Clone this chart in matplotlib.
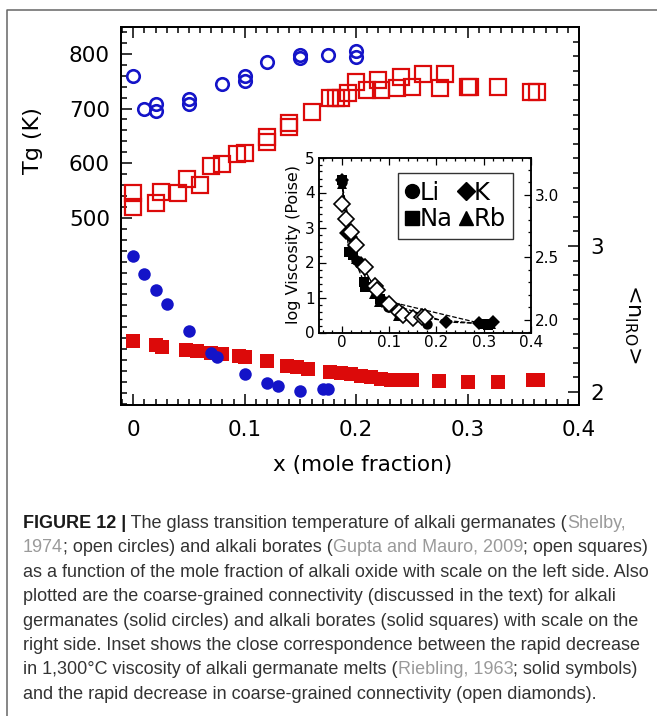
import matplotlib
matplotlib.use("Agg")
import matplotlib.pyplot as plt
from matplotlib.lines import Line2D
from matplotlib.ticker import FixedLocator, FixedFormatter, MultipleLocator

# --- data ---
# Tg of alkali germanates (open circles, left axis)
ge_tg_x = [0.0, 0.01, 0.02, 0.02, 0.05, 0.05, 0.08, 0.10, 0.10, 0.12, 0.15, 0.15, 0.175, 0.20, 0.20]
ge_tg = [760, 700, 708, 696, 718, 708, 744, 760, 750, 785, 797, 793, 798, 805, 795]

# Tg of alkali borates (open squares, left axis)
bo_tg_x = [0.0, 0.0, 0.02, 0.025, 0.04, 0.048, 0.06, 0.07, 0.08, 0.093, 0.10, 0.12, 0.12,
           0.14, 0.14, 0.16, 0.177, 0.182, 0.186, 0.193, 0.20, 0.21, 0.22, 0.222, 0.237,
           0.24, 0.25, 0.26, 0.275, 0.28, 0.30, 0.302, 0.327, 0.357, 0.362]
bo_tg = [545, 520, 528, 547, 545, 572, 560, 595, 598, 617, 619, 639, 648,
         666, 673, 694, 719, 720, 719, 728, 749, 734, 752, 734, 737,
         758, 739, 763, 737, 763, 740, 740, 739, 730, 730]

# coarse-grained connectivity <n_IRO>, germanates (solid circles, right axis)
ge_n_x = [0.0, 0.01, 0.02, 0.03, 0.05, 0.07, 0.075, 0.10, 0.12, 0.13, 0.15, 0.17, 0.175]
ge_n = [2.93, 2.81, 2.70, 2.60, 2.42, 2.27, 2.24, 2.125, 2.06, 2.04, 2.01, 2.02, 2.02]

# coarse-grained connectivity, borates (solid squares, right axis)
bo_n_x = [0.0, 0.02, 0.026, 0.047, 0.057, 0.07, 0.08, 0.095, 0.10, 0.12, 0.138, 0.147,
          0.157, 0.177, 0.186, 0.195, 0.204, 0.213, 0.222, 0.231, 0.238, 0.25, 0.274,
          0.30, 0.327, 0.359, 0.363]
bo_n = [2.35, 2.32, 2.31, 2.29, 2.28, 2.27, 2.26, 2.245, 2.24, 2.21, 2.18, 2.17,
        2.16, 2.14, 2.13, 2.12, 2.11, 2.10, 2.09, 2.085, 2.08, 2.08, 2.075,
        2.07, 2.07, 2.08, 2.08]

# inset: log viscosity at 1300 C (Riebling 1963)
li_x = [0.0, 0.03, 0.037, 0.09, 0.097, 0.18]
li_v = [4.30, 2.07, 1.98, 0.90, 0.72, 0.24]
na_x = [0.0, 0.015, 0.023, 0.047, 0.05, 0.08, 0.30, 0.31]
na_v = [4.37, 2.31, 2.21, 1.44, 1.30, 0.95, 0.24, 0.22]
k_x = [0.0, 0.01, 0.02, 0.04, 0.085, 0.22, 0.29, 0.32]
k_v = [4.35, 2.84, 2.74, 2.00, 0.90, 0.30, 0.26, 0.30]
rb_x = [0.0, 0.01, 0.03, 0.068, 0.079, 0.119, 0.30, 0.315]
rb_v = [4.25, 3.35, 2.10, 1.11, 0.86, 0.48, 0.24, 0.24]

x_ticks = [0.0, 0.1, 0.2, 0.3, 0.4]
x_tick_labels = ["0", "0.1", "0.2", "0.3", "0.4"]
tg_ticks = [500, 600, 700, 800]
n_ticks = [2, 3]
visc_ticks = [0, 1, 2, 3, 4, 5]
inset_n_ticks = [2.0, 2.5, 3.0]
inset_n_labels = ["2.0", "2.5", "3.0"]

caption = [
    [("FIGURE 12 |", "bold"), (" The glass transition temperature of alkali germanates (", "txt"), ("Shelby,", "ref")],
    [("1974", "ref"), ("; open circles) and alkali borates (", "txt"), ("Gupta and Mauro, 2009", "ref"),
     ("; open squares)", "txt")],
    [("as a function of the mole fraction of alkali oxide with scale on the left side. Also", "txt")],
    [("plotted are the coarse-grained connectivity (discussed in the text) for alkali", "txt")],
    [("germanates (solid circles) and alkali borates (solid squares) with scale on the", "txt")],
    [("right side. Inset shows the close correspondence between the rapid decrease", "txt")],
    [("in 1,300°C viscosity of alkali germanate melts (", "txt"), ("Riebling, 1963", "ref"),
     ("; solid symbols)", "txt")],
    [("and the rapid decrease in coarse-grained connectivity (open diamonds).", "txt")],
]

BLUE = "#1414c8"
RED = "#dc0a0a"
W, H = 657, 716

fig = plt.figure(figsize=(W / 100, H / 100), dpi=100)

# --- main axes ---
ax = fig.add_axes([121 / W, 1 - 405 / H, 458 / W, 378 / H])
ax2 = ax.twinx()

ax.plot(ge_tg_x, ge_tg, "o", ms=9, mfc="none", mec=BLUE, mew=1.9)
ax.plot(bo_tg_x, bo_tg, "s", ms=11, mfc="none", mec=RED, mew=1.6)
ax2.plot(bo_n_x, bo_n, "s", ms=9.5, color=RED, mew=0)
ax2.plot(ge_n_x, ge_n, "o", ms=9, color=BLUE, mew=0)

ax.set_xlim(-0.011, 0.4)
ax.set_ylim(158, 849)
ax2.set_ylim(1.911, 4.5)

ax.xaxis.set_major_locator(FixedLocator(x_ticks))
ax.xaxis.set_major_formatter(FixedFormatter(x_tick_labels))
ax.xaxis.set_minor_locator(MultipleLocator(0.01))
ax.yaxis.set_major_locator(FixedLocator(tg_ticks))
ax.yaxis.set_minor_locator(MultipleLocator(20))
ax2.yaxis.set_major_locator(FixedLocator(n_ticks))
ax2.yaxis.set_minor_locator(MultipleLocator(0.1))

for a in (ax, ax2):
    a.tick_params(which="both", direction="in", width=1.1)
    a.tick_params(which="major", length=8, labelsize=15.5)
    a.tick_params(which="minor", length=4.5)
    for s in a.spines.values():
        s.set_linewidth(1.3)
ax.tick_params(which="both", top=True, right=False)
ax.tick_params(axis="x", pad=11)
ax.tick_params(axis="y", pad=8)
ax2.tick_params(axis="y", pad=8)

ax.text(0.528, -0.159, "x (mole fraction)", transform=ax.transAxes, fontsize=15.5,
        ha="center", va="center")
ax.text(-0.192, 0.70, "Tg (K)", transform=ax.transAxes, fontsize=16, rotation=90,
        ha="center", va="center")
ax2.text(1.116, 0.215, r"<n$_{\mathregular{IRO}}$>", transform=ax2.transAxes, fontsize=16,
         rotation=270, ha="center", va="center")

# --- inset ---
ins = fig.add_axes([319 / W, 1 - 332.5 / H, 212 / W, 175 / H])
ins.set_facecolor("white")
insr = ins.twinx()

for xs, vs, m in [(li_x, li_v, "o"), (na_x, na_v, "s"), (k_x, k_v, "D"), (rb_x, rb_v, "^")]:
    ins.plot(xs, vs, ls="--", lw=0.9, color="k", marker=m, ms=7.5 if m != "D" else 7, mew=0)
insr.plot(ge_n_x, ge_n, "D", ms=8, mfc="white", mec="k", mew=1.2)

ins.set_xlim(-0.048, 0.4)
ins.set_ylim(0, 5)
insr.set_ylim(1.896, 3.30)

ins.xaxis.set_major_locator(FixedLocator(x_ticks))
ins.xaxis.set_major_formatter(FixedFormatter(x_tick_labels))
ins.xaxis.set_minor_locator(MultipleLocator(0.02))
ins.yaxis.set_major_locator(FixedLocator(visc_ticks))
ins.yaxis.set_minor_locator(MultipleLocator(0.2))
insr.yaxis.set_major_locator(FixedLocator(inset_n_ticks))
insr.yaxis.set_major_formatter(FixedFormatter(inset_n_labels))
insr.yaxis.set_minor_locator(MultipleLocator(0.1))

for a in (ins, insr):
    a.tick_params(which="both", direction="in", width=0.9)
    a.tick_params(which="major", length=5, labelsize=11, pad=3)
    a.tick_params(which="minor", length=2.5)
    for s in a.spines.values():
        s.set_linewidth(1.1)
ins.tick_params(which="both", top=True, right=False)
ins.tick_params(axis="x", pad=2)
ins.set_ylabel("log Viscosity (Poise)", fontsize=11.5, labelpad=3)

handles = [Line2D([], [], ls="none", marker=m, color="k", ms=10 if m != "D" else 9)
           for m in ["o", "s", "D", "^"]]
leg = insr.legend(handles, ["Li", "Na", "K", "Rb"], ncol=2, loc="upper right",
                  bbox_to_anchor=(0.915, 0.91), fontsize=17.5, handlelength=0.55,
                  handletextpad=0.05, columnspacing=0.25, labelspacing=0.12,
                  borderpad=0.3, borderaxespad=0, fancybox=False, framealpha=1)
leg.get_frame().set_edgecolor("#333333")
leg.get_frame().set_linewidth(1.0)

# --- frame around figure + caption ---
fig.add_artist(Line2D([7 / W, 7 / W, 1], [0, 1 - 10 / H, 1 - 10 / H],
                      transform=fig.transFigure, color="#666666", lw=1.1))

renderer = fig.canvas.get_renderer()
probe = fig.text(0, 0, "".join(s for s, _ in caption[1]), fontsize=10, family="Liberation Sans")
cap_size = 10 * 625 / probe.get_window_extent(renderer).width
probe.remove()

colors = {"bold": "#1a1a1a", "txt": "#333333", "ref": "#9a9a9a"}
for i, line in enumerate(caption):
    y = 1 - (528 + 24.4 * i) / H
    x = 23 / W
    for seg, kind in line:
        t = fig.text(x, y, seg, fontsize=cap_size, family="Liberation Sans",
                     color=colors[kind], fontweight="bold" if kind == "bold" else "normal",
                     va="baseline", ha="left")
        x += t.get_window_extent(renderer).width / fig.bbox.width

fig.savefig("out.png", dpi=100)
